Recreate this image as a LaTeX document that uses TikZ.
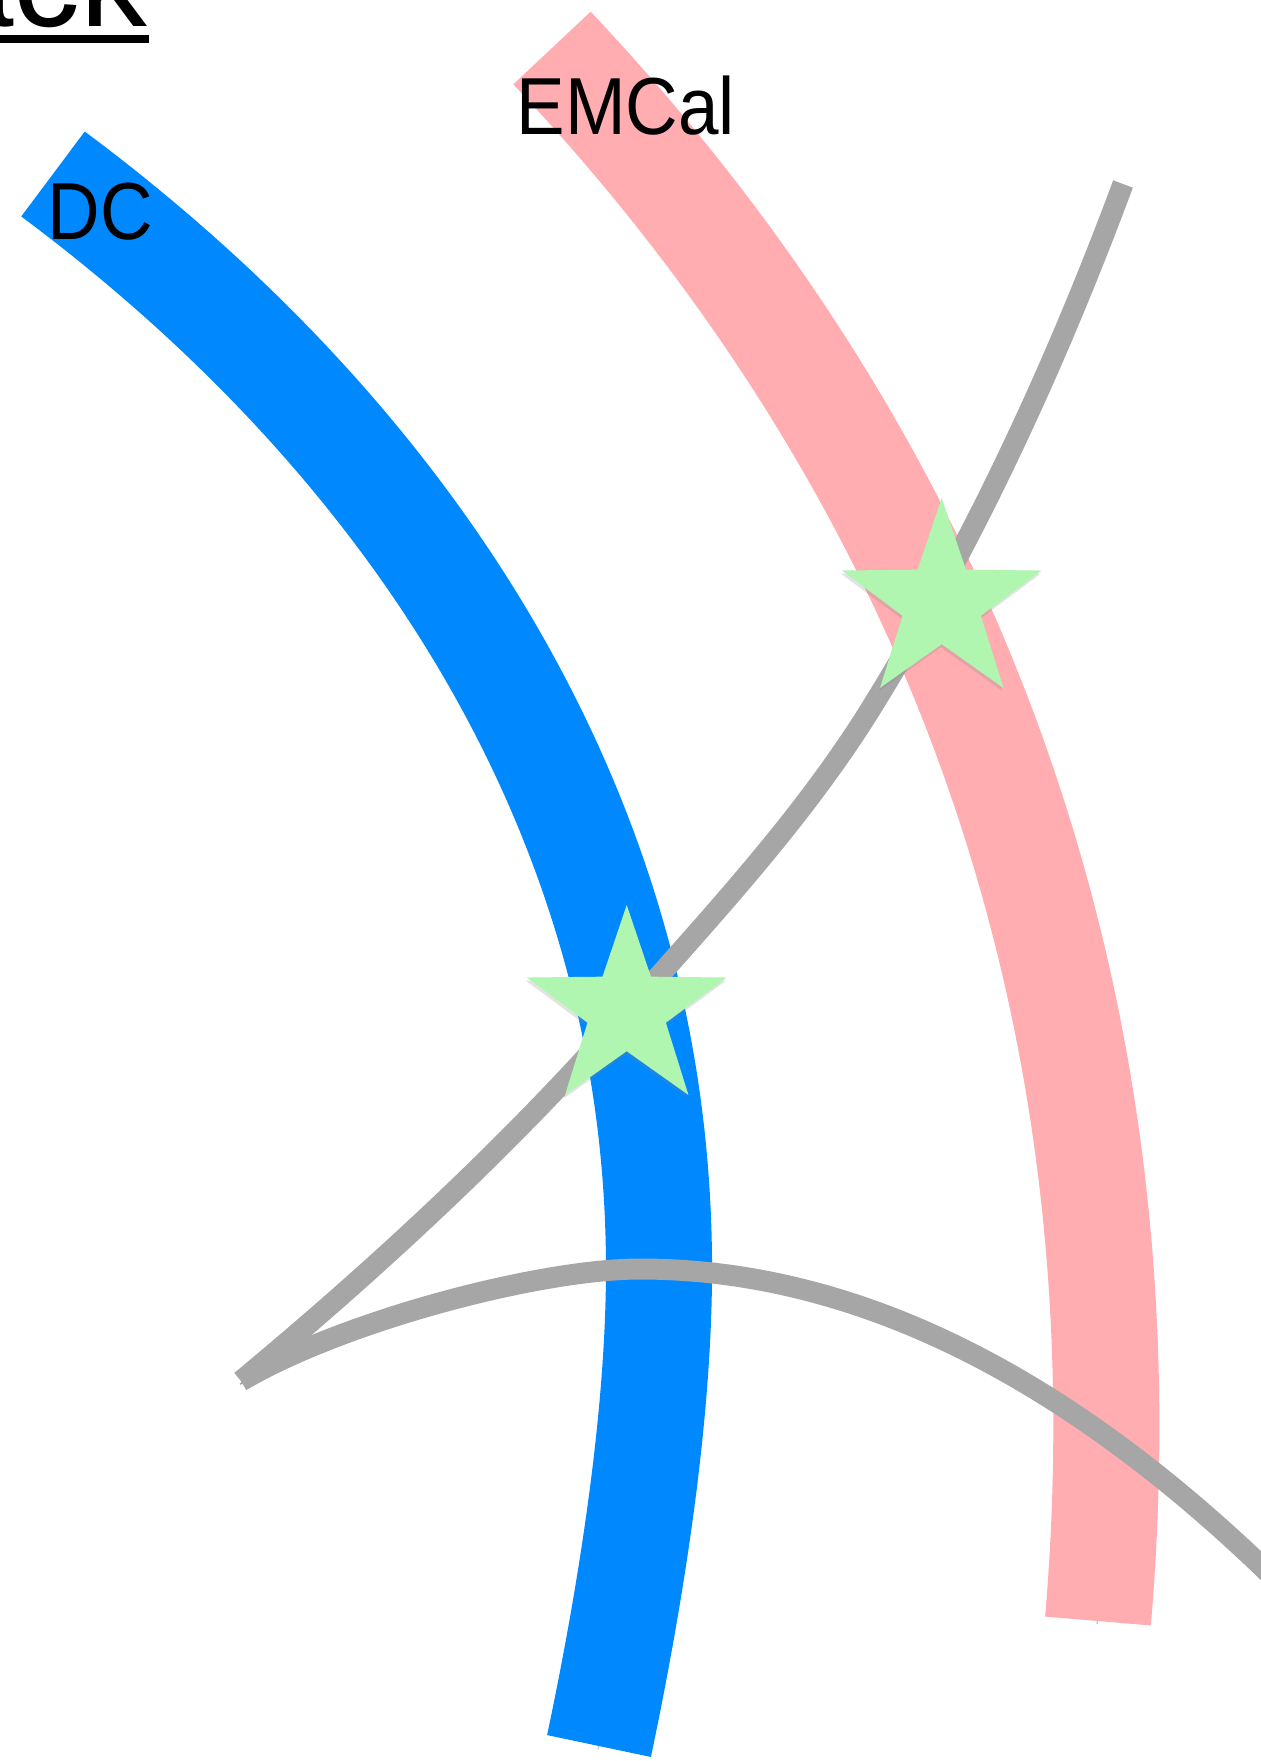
\documentclass[tikz,border=0pt]{standalone}
\usepackage{fontspec}
\setmainfont{Liberation Sans}
\usetikzlibrary{shapes.geometric,shadows}
\definecolor{dcblue}{RGB}{0,136,255}
\definecolor{empink}{RGB}{255,173,177}
\definecolor{trkgrey}{RGB}{166,166,166}
\definecolor{stargreen}{RGB}{176,245,176}
\begin{document}
\begin{tikzpicture}[x=0.01cm,y=-0.01cm,
  shadowline/.style={preaction={draw=black,draw opacity=0.22,
      transform canvas={xshift=-0.25pt,yshift=-0.9pt}}},
  band/.style={line width=1.06cm,line cap=butt,line join=round,shadowline},
  trackline/.style={draw=trkgrey,line width=0.21cm,line cap=butt,line join=round,shadowline},
  hit/.style={star,star points=5,star point ratio=2.55,minimum size=2.1cm,
      inner sep=0pt,fill=stargreen,draw=none,
      drop shadow={opacity=0.22,shadow xshift=-0.25pt,shadow yshift=-0.9pt}},
  lbl/.style={inner sep=0pt,font=\fontsize{23}{27}\selectfont,xscale=0.9}]
\useasboundingbox (0,0) rectangle (1260,1761);
\fill[white] (0,0) rectangle (1260,1761);

% title fragment
\node[anchor=base east,inner sep=0pt,font=\fontsize{38}{44}\selectfont] (ttl) at (148,27) {ack};
\fill (0,35) rectangle (149,42.7);

% DC band
\draw[band,dcblue] (53,174) .. controls (414,443) and (659,819) .. (659,1269)
  .. controls (659,1420) and (630,1599) .. (599,1746);
% EMCal band
\draw[band,empink] (552,48) .. controls (895,412) and (1157,924) .. (1098,1621);

% tracks
\coordinate (vtx) at (241,1381);
\draw[trackline] (vtx) .. controls (377,1268) and (509.5,1145.5) .. (627,1012)
  .. controls (712.8,914.5) and (801,820.5) .. (870,710)
  .. controls (973,544) and (1055,367) .. (1123,184);
\draw[trackline] (vtx) .. controls (343,1320.8) and (540,1269) .. (640,1269)
  .. controls (856.7,1269) and (1073.3,1377.3) .. (1290,1594);

% labels
\node[lbl,anchor=base west] (dc) at (47,240) {DC};
\node[lbl,anchor=base west] (emcal) at (516,135) {EMCal};

% hits
\node[hit] (s1) at (626.7,1010) {};
\node[hit] (s2) at (941.7,603) {};
\end{tikzpicture}
\end{document}
